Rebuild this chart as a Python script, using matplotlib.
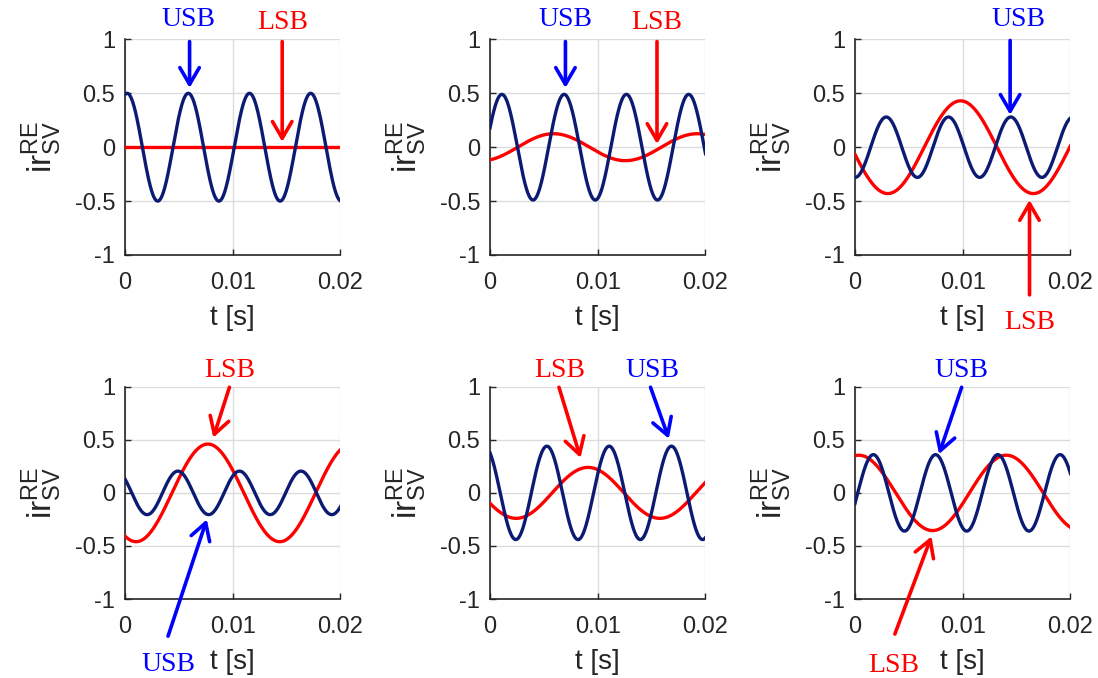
import matplotlib
matplotlib.use('Agg')
import matplotlib.pyplot as plt
import numpy as np

plt.rcParams['font.family'] = ['Liberation Sans', 'DejaVu Sans']
plt.rcParams['mathtext.fontset'] = 'custom'
plt.rcParams['mathtext.rm'] = 'Liberation Sans'

# sideband components per panel (amplitude, frequency in Hz, time of a crest in s)
usb_amp = [0.50, 0.49, 0.28, 0.205, 0.44, 0.36]
usb_freq = [176, 173, 173, 175, 173, 173]
usb_peak = [0.0002, 0.0011, 0.0029, -0.0008, -0.0005, 0.0017]

lsb_amp = [0.0, 0.125, 0.43, 0.46, 0.24, 0.355]
lsb_freq = [75, 75, 74, 75, 75, 73]
lsb_peak = [0.0, 0.0059, 0.0098, 0.0077, 0.0091, 0.00035]

x_ticks = [0, 0.01, 0.02]
x_ticklabels = ['0', '0.01', '0.02']
y_ticks = [-1, -0.5, 0, 0.5, 1]
y_ticklabels = ['-1', '-0.5', '0', '0.5', '1']

# (label, colour, text x, text y, arrow tail, arrow head)
notes = [
    [('USB', 'b', 0.0059, 1.18, (0.0060, 0.98), (0.0060, 0.55)),
     ('LSB', 'r', 0.0146, 1.16, (0.0146, 0.98), (0.0146, 0.05))],
    [('USB', 'b', 0.0070, 1.18, (0.0070, 0.98), (0.0070, 0.55)),
     ('LSB', 'r', 0.0155, 1.16, (0.0155, 0.98), (0.0155, 0.03))],
    [('USB', 'b', 0.0152, 1.18, (0.0144, 0.99), (0.0144, 0.30)),
     ('LSB', 'r', 0.0162, -1.63, (0.0162, -1.37), (0.0162, -0.49))],
    [('LSB', 'r', 0.0097, 1.15, (0.0097, 0.995), (0.0082, 0.52)),
     ('USB', 'b', 0.0040, -1.62, (0.0040, -1.35), (0.0076, -0.25))],
    [('LSB', 'r', 0.0065, 1.15, (0.0064, 0.995), (0.0084, 0.33)),
     ('USB', 'b', 0.0151, 1.15, (0.0149, 0.995), (0.0166, 0.51))],
    [('USB', 'b', 0.0099, 1.15, (0.0099, 0.995), (0.0078, 0.365)),
     ('LSB', 'r', 0.0036, -1.63, (0.0037, -1.33), (0.0071, -0.41))],
]

t = np.linspace(0, 0.02, 800)

fig = plt.figure(figsize=(10.98, 6.78), dpi=100)
lefts = [0.1138, 0.4463, 0.7787]
rows = [(0.6239, 0.318), (0.1165, 0.3131)]

for k in range(6):
    b, h = rows[k // 3]
    ax = fig.add_axes([lefts[k % 3], b, 0.1962, h])
    i_usb = usb_amp[k] * np.cos(2 * np.pi * usb_freq[k] * (t - usb_peak[k]))
    i_lsb = lsb_amp[k] * np.cos(2 * np.pi * lsb_freq[k] * (t - lsb_peak[k]))
    ax.plot(t, i_lsb, color='#ff0000', lw=2.4, zorder=3)
    ax.plot(t, i_usb, color='#0b1a73', lw=2.4, zorder=4)

    ax.set_xlim(0, 0.02)
    ax.set_ylim(-1, 1)
    ax.set_xticks(x_ticks)
    ax.set_xticklabels(x_ticklabels)
    ax.set_yticks(y_ticks)
    ax.set_yticklabels(y_ticklabels)
    ax.grid(True, color='#dcdcdc', lw=1.0)
    ax.set_axisbelow(True)
    for s in ['top', 'right']:
        ax.spines[s].set_visible(False)
    for s in ['left', 'bottom']:
        ax.spines[s].set_color('#262626')
        ax.spines[s].set_linewidth(1.2)
    ax.tick_params(direction='in', length=4, width=1, colors='#262626',
                   labelsize=17)
    ax.tick_params(axis='x', pad=12)
    ax.tick_params(axis='y', pad=7)
    ax.set_xlabel('t [s]', fontsize=20, color='#262626', labelpad=8)
    ax.set_ylabel(r'ir$^{\mathrm{RE}}_{\mathrm{SV}}$', fontsize=24,
                  color='#262626', labelpad=8)

    for label, c, tx, ty, tail, head in notes[k]:
        col = '#0000ff' if c == 'b' else '#ff0000'
        ax.text(tx, ty, label, color=col, fontsize=20, family='Liberation Serif',
                ha='center', va='center', clip_on=False)
        ax.annotate('', xy=head, xytext=tail, annotation_clip=False,
                    arrowprops=dict(arrowstyle='->,head_length=0.6,head_width=0.35',
                                    color=col, lw=2.6, mutation_scale=20,
                                    shrinkA=0, shrinkB=0))

fig.savefig('out.png', dpi=100)
